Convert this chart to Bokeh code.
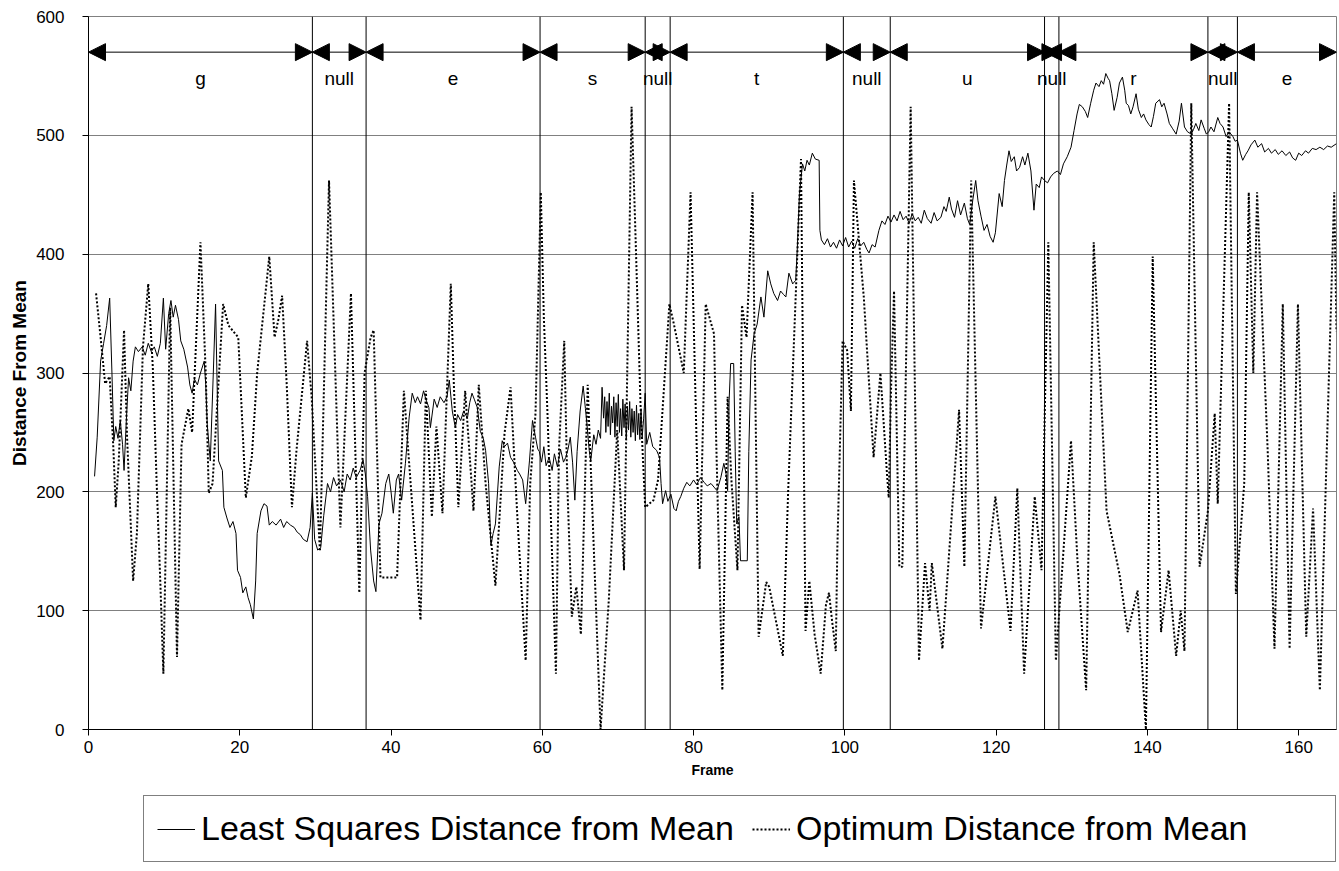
from bokeh.plotting import figure
from bokeh.layouts import column
from bokeh.models import Legend, LegendItem, Arrow, NormalHead, FixedTicker
from bokeh.embed import file_html
from bokeh.resources import INLINE
from bokeh.core.properties import value

# ---------------- data ----------------
segment_bounds = [0, 29.6, 36.7, 59.7, 73.6, 76.9, 99.8, 106.0, 126.4, 128.3, 148.0, 151.9, 165]
segment_labels = ["g", "null", "e", "s", "null", "t", "null", "u", "null", "r", "null", "e"]
arrow_level = 570
label_level = 548

x_ticks = [0, 20, 40, 60, 80, 100, 120, 140, 160]
y_ticks = [0, 100, 200, 300, 400, 500, 600]

series_names = ["Least Squares Distance from Mean", "Optimum Distance from Mean"]

least_squares = [
    (0.8, 213), (1.15, 246), (1.6, 310), (2.0, 325), (2.4, 340), (2.8, 363), (3.1, 300), (3.35, 243),
    (3.6, 255), (3.9, 245), (4.2, 260), (4.5, 240), (4.7, 218), (5.0, 260), (5.3, 296), (5.6, 285),
    (5.9, 310), (6.2, 322), (6.6, 318), (7.1, 322), (7.5, 315), (7.9, 325), (8.3, 318), (8.7, 322),
    (9.1, 314), (9.5, 325), (9.9, 363), (10.2, 320), (10.6, 350), (10.9, 361), (11.2, 347), (11.5, 357),
    (11.9, 345), (12.2, 327), (12.6, 320), (13.1, 305), (13.4, 290), (13.7, 283), (14.0, 295), (14.4, 290),
    (14.8, 300), (15.3, 310), (15.5, 290), (15.7, 257), (16.1, 226), (16.5, 300), (16.8, 358), (17.2, 226),
    (17.7, 218), (17.9, 187), (18.3, 178), (18.7, 170), (19.1, 175), (19.5, 165), (19.7, 134), (20.1, 128),
    (20.4, 115), (20.8, 120), (21.1, 111), (21.4, 105), (21.8, 93), (22.1, 125), (22.3, 165), (22.8, 184),
    (23.2, 190), (23.6, 188), (23.9, 172), (24.3, 175), (24.8, 172), (25.4, 177), (25.8, 170), (26.2, 175),
    (26.7, 172), (27.2, 170), (27.6, 166), (28.0, 164), (28.4, 160), (28.9, 158), (29.3, 170), (29.6, 199),
    (29.9, 160), (30.3, 151), (30.7, 153), (31.1, 180), (31.6, 207), (32.0, 200), (32.4, 212), (32.8, 205),
    (33.3, 210), (33.8, 200), (34.2, 215), (34.6, 210), (35.0, 220), (35.4, 212), (35.9, 218), (36.3, 227),
    (36.6, 215), (36.9, 196), (37.3, 151), (37.7, 125), (38.0, 116), (38.4, 173), (38.8, 182), (39.3, 207),
    (39.7, 215), (40.0, 200), (40.3, 182), (40.7, 210), (41.0, 215), (41.4, 193), (41.9, 224), (42.4, 263),
    (42.8, 283), (43.2, 275), (43.5, 280), (43.9, 274), (44.3, 285), (44.6, 278), (45.0, 271), (45.2, 254),
    (45.7, 278), (46.1, 271), (46.5, 280), (47.0, 275), (47.4, 280), (47.7, 294), (48.1, 268), (48.5, 254),
    (48.8, 265), (49.2, 260), (49.6, 268), (50.1, 262), (50.4, 275), (50.7, 283), (51.0, 278), (51.4, 271),
    (51.8, 251), (52.2, 245), (52.5, 235), (52.9, 207), (53.2, 155), (53.5, 165), (53.8, 173), (54.3, 221),
    (54.7, 243), (55.0, 238), (55.4, 241), (55.8, 229), (56.2, 225), (56.7, 218), (57.0, 215), (57.4, 210),
    (57.8, 190), (58.3, 226), (58.7, 260), (59.1, 246), (59.4, 236), (59.6, 234), (59.9, 225), (60.2, 238),
    (60.5, 222), (60.9, 229), (61.3, 218), (61.6, 232), (62.0, 221), (62.4, 236), (62.8, 225), (63.1, 229),
    (63.4, 236), (63.7, 246), (64.0, 225), (64.3, 193), (64.6, 234), (65.0, 268), (65.4, 289), (65.7, 270),
    (65.9, 257), (66.2, 235), (66.4, 226), (66.8, 248), (67.1, 240), (67.4, 252), (67.7, 245), (67.9, 288),
    (68.1, 262), (68.25, 280), (68.4, 250), (68.55, 276), (68.7, 255), (68.85, 283), (69.0, 248), (69.15, 272),
    (69.3, 258), (69.45, 280), (69.6, 246), (69.75, 275), (69.9, 255), (70.05, 282), (70.2, 250), (70.35, 270),
    (70.5, 247), (70.65, 278), (70.8, 254), (70.95, 274), (71.1, 244), (71.25, 272), (71.4, 252), (71.55, 276),
    (71.7, 246), (71.85, 270), (72.0, 250), (72.15, 268), (72.3, 243), (72.45, 273), (72.6, 248), (72.75, 266),
    (72.9, 244), (73.05, 270), (73.2, 246), (73.4, 262), (73.6, 283), (73.8, 240), (74.2, 250), (74.6, 238),
    (75.1, 235), (75.5, 229), (75.7, 207), (75.9, 190), (76.3, 201), (76.6, 192), (77.0, 198), (77.4, 186),
    (77.7, 184), (78.0, 192), (78.3, 196), (78.7, 203), (79.1, 208), (79.5, 205), (80.0, 210), (80.4, 206),
    (80.9, 212), (81.4, 208), (81.8, 205), (82.3, 207), (82.7, 204), (83.1, 201), (83.6, 212), (84.0, 224),
    (84.3, 215), (84.5, 201), (84.7, 277), (84.9, 308), (85.3, 308), (85.5, 234), (85.7, 173), (86.0, 179),
    (86.2, 142), (87.1, 142), (87.3, 234), (87.6, 311), (88.0, 333), (88.4, 341), (88.9, 364), (89.3, 347),
    (89.8, 386), (90.2, 375), (90.6, 367), (91.1, 361), (91.5, 369), (91.9, 366), (92.2, 364), (92.6, 384),
    (93.1, 375), (93.5, 378), (93.7, 403), (94.0, 451), (94.4, 476), (94.7, 470), (95.0, 479), (95.3, 475),
    (95.7, 485), (96.1, 480), (96.6, 479), (96.7, 420), (96.9, 412), (97.3, 408), (97.7, 413), (98.1, 406),
    (98.5, 410), (98.9, 405), (99.3, 412), (99.7, 407), (100.1, 414), (100.5, 406), (100.9, 411), (101.3, 405),
    (101.7, 413), (102.1, 407), (102.5, 410), (102.9, 404), (103.2, 401), (103.6, 408), (104.0, 406), (104.5, 420),
    (104.9, 428), (105.3, 425), (105.7, 432), (106.1, 427), (106.5, 433), (106.9, 428), (107.3, 436), (107.7, 429),
    (108.1, 432), (108.5, 426), (108.9, 434), (109.3, 428), (109.7, 431), (110.1, 426), (110.5, 437), (110.9, 430),
    (111.4, 426), (111.8, 435), (112.2, 428), (112.7, 431), (113.1, 440), (113.4, 436), (113.8, 448), (114.1, 438),
    (114.5, 431), (114.9, 445), (115.3, 433), (115.8, 443), (116.2, 430), (116.5, 425), (116.9, 445), (117.3, 462),
    (117.6, 445), (118.0, 432), (118.4, 420), (118.8, 425), (119.2, 415), (119.6, 410), (119.9, 418), (120.4, 451),
    (120.8, 440), (121.1, 462), (121.4, 475), (121.7, 487), (122.0, 478), (122.4, 482), (122.7, 470), (123.1, 473),
    (123.5, 482), (123.8, 475), (124.2, 485), (124.6, 470), (125.0, 437), (125.3, 459), (125.7, 456), (126.0, 465),
    (126.4, 462), (126.8, 460), (127.2, 465), (127.6, 468), (128.1, 470), (128.5, 467), (128.9, 476), (129.4, 482),
    (129.9, 490), (130.3, 504), (130.7, 518), (131.0, 526), (131.4, 524), (131.8, 520), (132.1, 515), (132.5, 527),
    (132.9, 538), (133.2, 544), (133.6, 541), (133.9, 546), (134.2, 543), (134.5, 552), (134.8, 548), (135.0, 546),
    (135.3, 535), (135.6, 521), (136.0, 532), (136.3, 544), (136.7, 549), (137.0, 538), (137.2, 527), (137.5, 525),
    (137.8, 518), (138.1, 524), (138.5, 535), (138.8, 522), (139.2, 515), (139.5, 518), (139.8, 513), (140.2, 509),
    (140.5, 507), (140.8, 516), (141.1, 527), (141.6, 530), (141.9, 524), (142.2, 527), (142.6, 518), (142.9, 510),
    (143.3, 506), (143.8, 501), (144.2, 512), (144.5, 527), (144.9, 507), (145.3, 503), (145.8, 501), (146.1, 505),
    (146.4, 510), (146.8, 504), (147.1, 513), (147.5, 506), (147.8, 501), (148.1, 503), (148.4, 507), (148.8, 503),
    (149.3, 515), (149.6, 510), (150.0, 507), (150.4, 499), (150.8, 503), (151.3, 499), (151.6, 495), (151.9, 496),
    (152.3, 485), (152.6, 479), (153.0, 484), (153.3, 487), (153.7, 492), (154.2, 496), (154.6, 490), (155.1, 493),
    (155.5, 486), (156.0, 489), (156.4, 485), (156.9, 488), (157.3, 484), (157.8, 487), (158.3, 483), (158.8, 486),
    (159.2, 481), (159.6, 479), (160.0, 485), (160.4, 483), (160.9, 487), (161.3, 485), (161.8, 489), (162.3, 488),
    (162.8, 490), (163.3, 488), (163.8, 491), (164.3, 490), (165.0, 493),
]

optimum_x = [
    1.0, 1.6, 2.2, 2.8, 3.3, 3.6, 4.0, 4.7, 5.1, 5.9,
    6.4, 7.2, 7.9, 8.5, 9.0, 9.5, 9.9, 10.8, 11.7, 12.3,
    13.2, 13.7, 14.8, 15.5, 15.9, 16.4, 17.8, 18.5, 19.8, 20.8,
    21.6, 22.3, 23.9, 24.6, 25.1, 25.6, 26.2, 26.9, 27.5, 28.9,
    29.5, 30.6, 31.8, 33.3, 34.7, 35.8, 36.5, 37.3, 37.7, 38.6,
    40.8, 41.7, 43.9, 44.6, 45.4, 46.0, 46.8, 47.9, 48.3, 48.9,
    49.8, 50.9, 51.6, 52.5, 53.8, 55.0, 55.8, 56.7, 57.8, 58.4,
    59.1, 59.8, 60.2, 60.7, 61.8, 62.2, 62.9, 63.3, 63.9, 64.5,
    65.1, 66.0, 67.7, 68.8, 69.9, 70.8, 71.8, 72.3, 73.0, 73.6,
    74.7, 75.3, 76.8, 77.4, 78.7, 79.6, 80.8, 81.6, 82.7, 83.0,
    83.8, 84.5, 85.0, 85.8, 86.4, 87.0, 87.8, 88.6, 89.6, 90.0,
    91.8, 92.5, 94.2, 94.8, 95.3, 96.0, 96.8, 97.5, 97.9, 98.3,
    98.8, 99.0, 99.7, 100.3, 100.8, 101.2, 102.5, 103.8, 104.7, 105.6,
    105.8, 106.1, 106.5, 107.2, 107.6, 108.7, 109.8, 110.6, 111.2, 111.5,
    112.9, 113.8, 115.1, 115.8, 116.7, 118.0, 119.9, 121.9, 122.8, 123.7,
    125.1, 126.0, 126.9, 127.9, 129.9, 130.8, 131.9, 132.9, 134.6, 136.3,
    137.4, 138.7, 139.8, 140.7, 141.8, 142.8, 143.8, 144.4, 144.9, 145.8,
    146.9, 148.0, 148.9, 149.3, 150.8, 151.7, 152.8, 153.4, 154.0, 154.5,
    155.9, 156.8, 157.9, 158.8, 159.9, 161.0, 161.9, 162.8, 164.7, 165.0,
]
optimum_y = [
    367, 330, 291, 297, 235, 187, 226, 336, 246, 125,
    165, 322, 375, 305, 210, 123, 47, 355, 61, 240,
    270, 250, 410, 300, 199, 207, 358, 340, 330, 195,
    230, 300, 398, 330, 345, 365, 291, 187, 235, 327,
    280, 150, 462, 170, 367, 115, 300, 330, 336, 128,
    128, 285, 92, 285, 179, 255, 182, 375, 291, 187,
    285, 184, 290, 207, 121, 249, 288, 179, 58, 207,
    266, 452, 347, 263, 47, 235, 327, 207, 95, 120,
    80, 290, 0, 110, 252, 134, 524, 420, 270, 187,
    193, 210, 358, 341, 300, 452, 135, 358, 333, 240,
    33, 280, 210, 134, 357, 330, 452, 78, 124, 120,
    62, 200, 480, 83, 125, 80, 47, 105, 115, 92,
    66, 151, 327, 319, 268, 462, 364, 229, 300, 212,
    195, 285, 369, 137, 137, 524, 58, 140, 100, 140,
    68, 150, 269, 137, 462, 85, 196, 83, 203, 47,
    196, 134, 410, 58, 243, 137, 33, 410, 184, 131,
    82, 117, 0, 398, 82, 134, 62, 100, 66, 527,
    137, 184, 266, 190, 527, 114, 207, 452, 300, 452,
    235, 68, 358, 68, 358, 78, 186, 33, 452, 335,
]

ls_x = [pt[0] for pt in least_squares]
ls_y = [pt[1] for pt in least_squares]

FONT = "Liberation Sans"

# ---------------- main chart ----------------
p = figure(width=1339, height=793, x_range=(0, 165), y_range=(0, 600),
           output_backend="svg", toolbar_location=None,
           min_border_left=88, min_border_right=3, min_border_top=16, min_border_bottom=64)

p.outline_line_color = "#808080"
p.background_fill_color = "white"
p.xgrid.grid_line_color = None
p.ygrid.grid_line_color = "#808080"
p.ygrid.ticker = FixedTicker(ticks=y_ticks)

for ax in (p.xaxis[0], p.yaxis[0]):
    ax.axis_line_color = "black"
    ax.major_tick_line_color = "black"
    ax.major_tick_out = 6
    ax.major_tick_in = 0
    ax.minor_tick_line_color = None
    ax.major_label_text_font = FONT
    ax.major_label_text_font_size = "17px"
    ax.major_label_text_color = "black"
    ax.axis_label_text_font = FONT
    ax.axis_label_text_font_style = "bold"
    ax.axis_label_text_color = "black"

p.xaxis.ticker = FixedTicker(ticks=x_ticks)
p.yaxis.ticker = FixedTicker(ticks=y_ticks)
p.xaxis.axis_label = "Frame"
p.yaxis.axis_label = "Distance From Mean"
p.xaxis.axis_label_text_font_size = "14px"
p.yaxis.axis_label_text_font_size = "19px"
p.xaxis.major_label_standoff = 5
p.xaxis.axis_label_standoff = 6
p.yaxis.major_label_standoff = 18
p.yaxis.axis_label_standoff = 3

# segment boundary lines
inner = segment_bounds[1:-1]
p.segment(x0=inner, y0=[0] * len(inner), x1=inner, y1=[600] * len(inner),
          line_color="black", line_width=1)

# segment arrows and labels
for a, b in zip(segment_bounds[:-1], segment_bounds[1:]):
    p.add_layout(Arrow(x_start=a, y_start=arrow_level, x_end=b, y_end=arrow_level,
                       line_color="black", line_width=1,
                       start=NormalHead(size=17, fill_color="black", line_color="black"),
                       end=NormalHead(size=17, fill_color="black", line_color="black")))
mids = [(a + b) / 2 for a, b in zip(segment_bounds[:-1], segment_bounds[1:])]
p.text(x=mids, y=[label_level] * len(mids), text=segment_labels,
       text_font=value(FONT), text_font_size="19px", text_align="center",
       text_baseline="middle", text_color="black")

p.line(ls_x, ls_y, line_color="black", line_width=1)
p.line(optimum_x, optimum_y, line_color="black", line_width=2, line_dash="2 2")

# ---------------- legend strip (frames are aligned with the chart above) ----------------
leg = figure(width=1339, height=78, x_range=(0, 1), y_range=(0, 1),
             output_backend="svg", toolbar_location=None, min_border=0)
leg.axis.visible = False
leg.grid.grid_line_color = None
leg.outline_line_color = None
# key renderers: placed outside the visible range, only their styles feed the legend
k_ls = leg.line(x=[5, 6], y=[5, 6], line_color="black", line_width=1)
k_opt = leg.line(x=[5, 6], y=[5, 6], line_color="black", line_width=2, line_dash="2 2")

legend = Legend(items=[LegendItem(label=series_names[0], renderers=[k_ls]),
                       LegendItem(label=series_names[1], renderers=[k_opt])],
                orientation="horizontal", location=(55, 9))
legend.label_text_font = FONT
legend.label_text_font_size = "34px"
legend.label_text_color = "black"
legend.label_width = 526
legend.glyph_width = 38
legend.label_standoff = 6
legend.spacing = 18
legend.padding = 13
legend.margin = 0
legend.border_line_color = "black"
legend.border_line_width = 1
legend.background_fill_color = "white"
leg.add_layout(legend)

layout = column(p, leg, spacing=0)
open("out.html", "w").write(file_html(layout, INLINE))
